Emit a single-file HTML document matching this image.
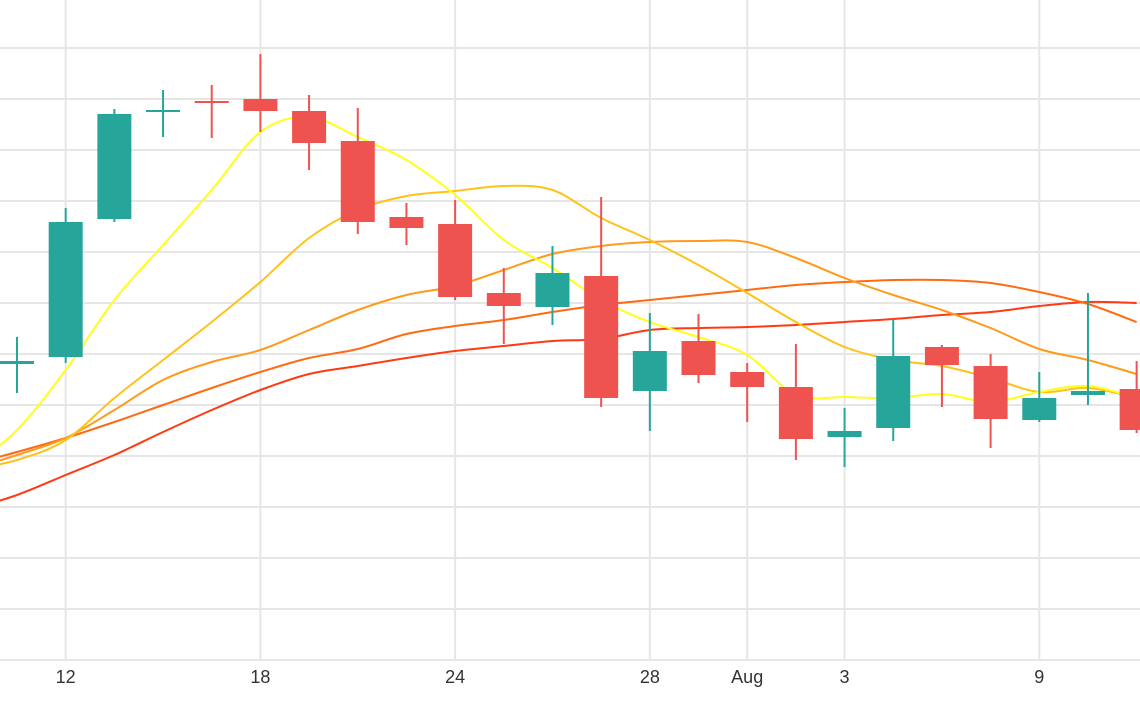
<!DOCTYPE html>
<html><head><meta charset="utf-8"><style>
html,body{margin:0;padding:0;background:#fff;width:1140px;height:710px;overflow:hidden}
svg{display:block;font-family:"Liberation Sans",sans-serif}
</style></head><body>
<svg id="chart" width="1140" height="710" viewBox="0 0 1140 710">
<g id="grid"></g>
<g id="lines"></g>
<g id="candles"></g>
<g id="xaxis"></g>
</svg>
<script>
const opens  = [63.6,64.3,78.1,88.9,89.9,90.1,88.9,85.9,78.3,77.6,70.7,69.3,72.4,60.9,65.9,62.8,61.3,56.3,57.2,65.3,63.4,58.0,60.5,61.1];
const highs  = [66.3,79.2,89.1,91.0,91.5,94.6,90.5,89.2,79.7,80.0,73.2,75.4,80.3,68.7,68.6,63.7,65.6,59.2,68.1,65.5,64.6,62.8,70.7,63.9];
const lows   = [60.7,63.7,77.8,86.3,86.2,86.8,83.0,76.6,75.5,70.0,65.6,67.5,59.3,56.9,61.7,57.8,54.0,53.3,55.9,59.3,55.2,57.8,59.5,56.7];
const closes = [63.9,77.8,88.6,89.0,89.8,88.9,85.7,77.8,77.2,70.3,69.4,72.7,60.2,64.9,62.5,61.3,56.1,56.9,64.4,63.5,58.1,60.2,60.9,57.0];
// moving averages, starting at index -1
const ma1 = [53.0,57.0,63.0,70.0,75.5,81.0,86.8,88.3,86.3,84.0,80.5,76.0,73.2,70.0,67.8,66.3,64.5,60.5,60.3,60.2,60.6,59.8,60.8,61.4,60.2];
const ma2 = [53.0,54.0,56.0,60.2,64.0,67.8,71.8,76.2,79.0,80.4,80.9,81.4,81.0,78.2,76.0,73.5,70.7,67.8,65.3,64.0,63.4,62.2,60.8,61.2,60.2];
const ma3 = [53.0,54.5,56.2,59.0,62.0,63.8,65.0,67.0,69.0,70.5,71.4,73.0,74.6,75.4,75.8,75.9,75.8,74.2,72.2,70.5,69.0,67.2,65.1,64.0,62.6];
const ma4 = [53.5,54.8,56.2,57.8,59.5,61.2,62.8,64.2,65.1,66.6,67.4,68.0,68.8,69.5,70.0,70.5,71.0,71.5,71.8,72.0,72.0,71.7,70.8,69.6,67.8];
const ma5 = [49.0,50.5,52.5,54.5,56.8,59.0,61.0,62.6,63.4,64.2,64.9,65.4,65.9,66.1,67.0,67.2,67.3,67.5,67.8,68.1,68.5,68.8,69.4,69.8,69.7];
const tickIdx = [1,5,9,13,15,17,21];
const tickLabels = ["12","18","24","28","Aug","3","9"];

const NS="http://www.w3.org/2000/svg";
const xS = i => 17 + i*48.68;
const yS = v => 1000 - v*10;
function mk(tag, attrs, parent){const e=document.createElementNS(NS,tag);for(const k in attrs)e.setAttribute(k,attrs[k]);parent.appendChild(e);return e;}

const grid=document.getElementById('grid');
for(let k=0;k<=12;k++){const y=48+k*51;
 const l=mk('line',{x1:0,x2:1140,y1:y,y2:y,stroke:'#e6e6e6','stroke-width':2},grid);
 
 }
tickIdx.forEach((ti,j)=>{const x=xS(ti);
 const l=mk('line',{x1:x,x2:x,y1:0,y2:660,stroke:'#e6e6e6','stroke-width':2},grid);
 
 
 const t=mk('text',{x:x,y:683,'text-anchor':'middle','font-size':18,fill:'#333'},document.getElementById('xaxis'));
 t.textContent=tickLabels[j];
 
 });

function path(arr){const pts=arr.map((v,i)=>[xS(i-1),yS(v)]);let d='M'+pts[0][0]+','+pts[0][1];
 for(let i=0;i<pts.length-1;i++){const p0=pts[Math.max(0,i-1)],p1=pts[i],p2=pts[i+1],p3=pts[Math.min(pts.length-1,i+2)];
  const c1=[p1[0]+(p2[0]-p0[0])/6,p1[1]+(p2[1]-p0[1])/6],c2=[p2[0]-(p3[0]-p1[0])/6,p2[1]-(p3[1]-p1[1])/6];
  d+=' C'+c1.join(',')+' '+c2.join(',')+' '+p2.join(',');}return d;}
const lines=document.getElementById('lines');
[[ma5,'#ff3a12'],[ma4,'#ff6a12'],[ma3,'#ff9a1a'],[ma2,'#ffc21a'],[ma1,'#ffff1a']].forEach((s,k)=>{
 const p=mk('path',{d:path(s[0]),fill:'none',stroke:s[1],'stroke-width':2},lines);
 
 });

const cg=document.getElementById('candles');
opens.forEach((o,i)=>{const c=closes[i],up=c>=o,col=up?'#26a69a':'#ef5350',x=xS(i);
 const g=mk('g',{},cg);
 
 
 mk('line',{x1:x,x2:x,y1:yS(highs[i]),y2:yS(lows[i]),stroke:col,'stroke-width':2},g);
 const top=yS(Math.max(o,c)),h=Math.max(2,Math.abs(yS(o)-yS(c)));
 mk('rect',{x:x-17,y:top,width:34,height:h,fill:col},g);});
</script>
</body></html>
